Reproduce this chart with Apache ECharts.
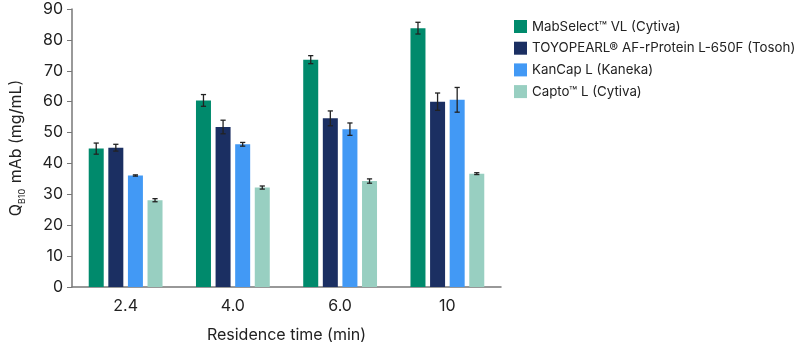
<!DOCTYPE html>
<html>
<head>
<meta charset="utf-8">
<script src="https://cdn.jsdelivr.net/npm/echarts@6/dist/echarts.min.js"></script>
<style>
html,body{margin:0;padding:0;background:#fff;}
#c{width:800px;height:353px;}
</style>
</head>
<body>
<div id="c"></div>
<script>
const categories = ['2.4', '4.0', '6.0', '10'];
const seriesNames = ['MabSelect™ VL (Cytiva)', 'TOYOPEARL® AF-rProtein L-650F (Tosoh)', 'KanCap L (Kaneka)', 'Capto™ L (Cytiva)'];
const mabselect = [44.8, 60.4, 73.6, 83.8];
const mabselectErr = [1.8, 1.9, 1.3, 1.9];
const toyopearl = [45.1, 51.8, 54.6, 60.0];
const toyopearlErr = [1.1, 2.2, 2.4, 2.8];
const kancap = [36.1, 46.2, 51.1, 60.6];
const kancapErr = [0.2, 0.6, 2.0, 4.0];
const capto = [28.1, 32.2, 34.3, 36.7];
const captoErr = [0.5, 0.5, 0.7, 0.3];
const yTicks = [0, 10, 20, 30, 40, 50, 60, 70, 80, 90];

const colors = ['#008a6c', '#1b2f62', '#4299f5', '#98cfc1'];
const values = [mabselect, toyopearl, kancap, capto];
const errs = [mabselectErr, toyopearlErr, kancapErr, captoErr];
const BAR_W = 15, GAP = 4.6;
const FONT = 'Inter';

const chart = echarts.init(document.getElementById('c'));
const series = [];
values.forEach((vals, i) => {
  series.push({
    name: seriesNames[i], type: 'bar', data: vals,
    barWidth: BAR_W, barGap: (GAP / BAR_W * 100) + '%',
    itemStyle: { color: colors[i] }, z: 2
  });
});
values.forEach((vals, i) => {
  const offset = (i - 1.5) * (BAR_W + GAP);
  series.push({
    type: 'custom', z: 5, silent: true,
    data: vals.map((v, j) => [j, v - errs[i][j], v + errs[i][j]]),
    renderItem: function (params, api) {
      const lo = api.coord([api.value(0), api.value(1)]);
      const hi = api.coord([api.value(0), api.value(2)]);
      const x = lo[0] + offset;
      const cw = 2.6;
      const st = { stroke: '#222', lineWidth: 1.3 };
      return { type: 'group', children: [
        { type: 'line', shape: { x1: x, y1: lo[1], x2: x, y2: hi[1] }, style: st },
        { type: 'line', shape: { x1: x - cw, y1: lo[1], x2: x + cw, y2: lo[1] }, style: st },
        { type: 'line', shape: { x1: x - cw, y1: hi[1], x2: x + cw, y2: hi[1] }, style: st }
      ]};
    }
  });
});

chart.setOption({
  animation: false,
  textStyle: { fontFamily: FONT },
  grid: { left: 69, top: 9, width: 432, bottom: 66 },
  legend: {
    orient: 'vertical', left: 509, top: 15,
    itemWidth: 13, itemHeight: 13, itemGap: 8.7,
    icon: 'rect',
    data: seriesNames,
    textStyle: { fontSize: 13.3, lineHeight: 13, color: '#222', fontFamily: FONT }
  },
  xAxis: {
    type: 'category', data: categories,
    axisLine: { lineStyle: { color: '#777', width: 1.5 } },
    axisTick: { alignWithLabel: true, length: 5, lineStyle: { color: '#777' } },
    axisLabel: { fontSize: 16, color: '#222', margin: 11, fontFamily: FONT },
    name: 'Residence time (min)', nameLocation: 'middle', nameGap: 40,
    nameTextStyle: { fontSize: 16, color: '#222', fontFamily: FONT }
  },
  yAxis: {
    type: 'value', min: yTicks[0], max: yTicks[yTicks.length - 1], interval: 10,
    splitLine: { show: false },
    axisLine: { show: true, lineStyle: { color: '#777', width: 1.5 } },
    axisTick: { show: true, length: 5, lineStyle: { color: '#777' } },
    axisLabel: { fontSize: 16, color: '#222', margin: 9, fontFamily: FONT },
    name: '{q|Q}{s|B10}{q| mAb (mg/mL)}', nameLocation: 'middle', nameGap: 48,
    nameTextStyle: {
      color: '#222', fontFamily: FONT,
      rich: {
        q: { fontSize: 16, color: '#222', fontFamily: FONT, lineHeight: 20, verticalAlign: 'bottom' },
        s: { fontSize: 9, color: '#222', fontFamily: FONT, lineHeight: 20, verticalAlign: 'bottom', padding: [0, 1, -3, 0] }
      }
    }
  },
  series: series
});
</script>
</body>
</html>
